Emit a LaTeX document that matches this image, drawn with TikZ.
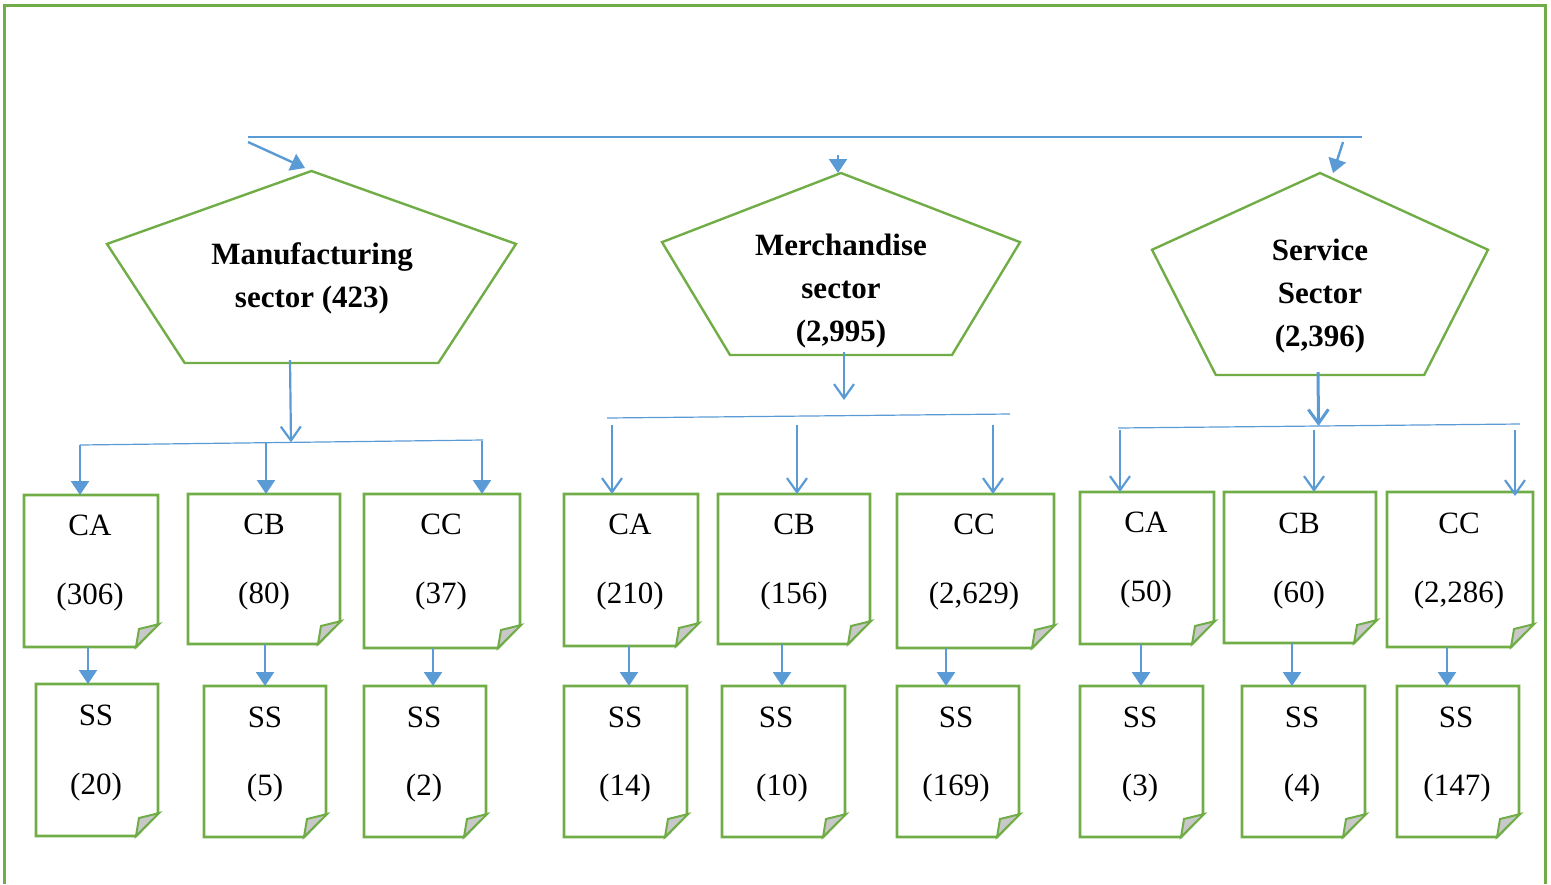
\documentclass[tikz,border=0pt]{standalone}
\usepackage{fontspec}
\setmainfont{Liberation Serif}
\usetikzlibrary{arrows.meta,calc,fit}
\definecolor{gr}{HTML}{70AD47}
\definecolor{bl}{HTML}{5B9BD5}
\definecolor{fd}{HTML}{C8C8C8}
\newcommand\notebox[5]{%
  \node[boxn, fit={(#2,#3)(#4,#5)}] (#1) {};
  \draw[gline] (#1.north west) -- (#1.north east) -- ([yshift=11.5pt]#1.south east) -- ([xshift=-11pt]#1.south east) -- (#1.south west) -- cycle;
  \filldraw[gline, fill=fd, line width=1pt] ([xshift=0.6pt,yshift=11.5pt]#1.south east) -- ([xshift=-11pt]#1.south east) -- ([xshift=-9.5pt,yshift=9pt]#1.south east) -- cycle;}
\newcommand\pentbox[5]{%
  \node[boxn, fit={(#2,#3)(#4,#5)}] (#1) {};
  \draw[pline] (#1.north) -- ($(#1.north east)!0.38!(#1.south east)$) -- ($(#1.south east)!0.19!(#1.south west)$) -- ($(#1.south west)!0.19!(#1.south east)$) -- ($(#1.north west)!0.38!(#1.south west)$) -- cycle;}
\newcommand\vlink[3]{%
  \coordinate (#1x) at (#3,0);
  \draw[arrF] (#1.south -| #1x) -- (#2.north -| #1x);}
\begin{document}
\begin{tikzpicture}[x=0.5pt,y=-0.5pt,
  boxn/.style={inner sep=0pt,outer sep=0pt,draw=none},
  gline/.style={draw=gr,line width=1.4pt,line join=miter},
  pline/.style={draw=gr,line width=1.2pt,line join=miter},
  txt/.style={font=\fontsize{15.5}{21.5}\selectfont, inner sep=0pt},
  btxt/.style={font=\fontsize{15.5}{21.5}\selectfont\bfseries, align=center, inner sep=0pt},
  arrF/.style={draw=bl,line width=1.2pt,-{Triangle[length=7pt,width=9pt]}},
  arrO/.style={draw=bl,line width=1.1pt,-{Straight Barb[length=7pt,width=10pt]}},
  thinl/.style={draw=bl,line width=0.6pt},
]
\useasboundingbox (0,0) rectangle (1551,884);
% frame
\draw[draw=gr,line width=1.5pt] (4,884) -- (4,5) -- (1545,5) -- (1545,884);

% top distribution line
\coordinate (tL) at (248,137);
\coordinate (tR) at (1362,137);
\draw[thinl] (tL) -- (tR);

% sector pentagons
\pentbox{man}{107}{171}{516}{363}
\pentbox{mer}{662}{173}{1020}{355}
\pentbox{ser}{1152}{173}{1488}{375}
\node[btxt] (manT) at (312,278) {Manufacturing\\sector (423)};
\node[btxt] (merT) at (841,291) {Merchandise\\sector\\(2,995)};
\node[btxt] (serT) at (1320,296) {Service\\Sector\\(2,396)};

\coordinate (a1) at (248,142);
\coordinate (a2) at (838,155);
\coordinate (a3) at (1343,142);
\draw[arrF] (a1) -- ([xshift=-3.25pt,yshift=1.5pt]man.north);
\draw[arrF] (a2) -- (a2 |- mer.north);
\draw[arrF] (a3) -- ([xshift=6.5pt]ser.north);

% first-level boxes
\notebox{mca}{24}{495}{158}{647}
\notebox{mcb}{188}{494}{340}{644}
\notebox{mcc}{364}{494}{520}{648}
\notebox{eca}{564}{494}{698}{646}
\notebox{ecb}{718}{494}{870}{644}
\notebox{ecc}{897}{494}{1054}{648}
\notebox{sca}{1080}{492}{1214}{644}
\notebox{scb}{1224}{492}{1376}{643}
\notebox{scc}{1387}{492}{1533}{647}

\node[txt] (mcaA) at (90,525) {CA};   \node[txt] (mcaN) at (90,597) {(306)};
\node[txt] (mcbA) at (264,524) {CB};  \node[txt] (mcbN) at (264,596) {(80)};
\node[txt] (mccA) at (441,524) {CC};  \node[txt] (mccN) at (441,596) {(37)};
\node[txt] (ecaA) at (630,524) {CA};  \node[txt] (ecaN) at (630,596) {(210)};
\node[txt] (ecbA) at (794,524) {CB};  \node[txt] (ecbN) at (794,596) {(156)};
\node[txt] (eccA) at (974,524) {CC};  \node[txt] (eccN) at (974,596) {(2,629)};
\node[txt] (scaA) at (1146,522) {CA}; \node[txt] (scaN) at (1146,594) {(50)};
\node[txt] (scbA) at (1299,523) {CB}; \node[txt] (scbN) at (1299,595) {(60)};
\node[txt] (sccA) at (1459,523) {CC}; \node[txt] (sccN) at (1459,595) {(2,286)};

% second-level boxes
\notebox{mss}{36}{684}{158}{836}
\notebox{bss}{204}{686}{326}{837}
\notebox{css}{364}{686}{486}{837}
\notebox{ess}{564}{686}{687}{837}
\notebox{fss}{722}{686}{845}{837}
\notebox{gss}{897}{686}{1019}{837}
\notebox{hss}{1080}{686}{1203}{837}
\notebox{iss}{1242}{686}{1365}{837}
\notebox{jss}{1397}{686}{1519}{837}

\node[txt] (mssA) at (96,715) {SS};   \node[txt] (mssN) at (96,787) {(20)};
\node[txt] (bssA) at (265,717) {SS};  \node[txt] (bssN) at (265,788) {(5)};
\node[txt] (cssA) at (424,717) {SS};  \node[txt] (cssN) at (424,788) {(2)};
\node[txt] (essA) at (625,717) {SS};  \node[txt] (essN) at (625,788) {(14)};
\node[txt] (fssA) at (776,717) {SS};  \node[txt] (fssN) at (782,788) {(10)};
\node[txt] (gssA) at (956,717) {SS};  \node[txt] (gssN) at (956,788) {(169)};
\node[txt] (hssA) at (1140,717) {SS}; \node[txt] (hssN) at (1140,788) {(3)};
\node[txt] (issA) at (1302,717) {SS}; \node[txt] (issN) at (1302,788) {(4)};
\node[txt] (jssA) at (1456,717) {SS}; \node[txt] (jssN) at (1457,788) {(147)};

% manufacturing branch
\coordinate (mL) at (80,445);
\coordinate (mR) at (483,440);
\coordinate (mD) at (290,360);
\draw[thinl] (mL) -- (mR);
\draw[arrO] (mD) -- ($(mL)!(mD)!(mR)$);
\coordinate (m2) at (266,443);
\coordinate (m3) at (482,441);
\draw[arrF] (mL) -- (mL |- mca.north);
\draw[arrF] (m2) -- (m2 |- mcb.north);
\draw[arrF] (m3) -- (m3 |- mcc.north);

% merchandise branch
\coordinate (eL) at (607,418);
\coordinate (eR) at (1010,414);
\coordinate (eD) at (844,352);
\draw[thinl] (eL) -- (eR);
\draw[arrO] (eD) -- (844,400);
\coordinate (e1) at (612,425);
\coordinate (e2) at (797,425);
\coordinate (e3) at (993,425);
\draw[arrO] (e1) -- (e1 |- eca.north);
\draw[arrO] (e2) -- (e2 |- ecb.north);
\draw[arrO] (e3) -- (e3 |- ecc.north);

% service branch
\coordinate (sL) at (1118,428);
\coordinate (sR) at (1520,424);
\coordinate (sD) at (1318,372);
\draw[thinl] (sL) -- (sR);
\draw[arrO, line width=1.5pt] (sD) -- ($(sL)!(sD)!(sR)$);
\coordinate (s1) at (1120,430);
\coordinate (s2) at (1314,430);
\coordinate (s3) at (1515,428);
\draw[arrO] (s1) -- (s1 |- sca.north);
\draw[arrO] (s2) -- (s2 |- scb.north);
\draw[arrO] ([yshift=-1pt]s3) -- ([yshift=-2pt]s3 |- scc.north);

% links to SS boxes
\vlink{mca}{mss}{88}
\vlink{mcb}{bss}{265}
\vlink{mcc}{css}{433}
\vlink{eca}{ess}{629}
\vlink{ecb}{fss}{782}
\vlink{ecc}{gss}{946}
\vlink{sca}{hss}{1141}
\vlink{scb}{iss}{1292}
\vlink{scc}{jss}{1447}
\end{tikzpicture}
\end{document}
